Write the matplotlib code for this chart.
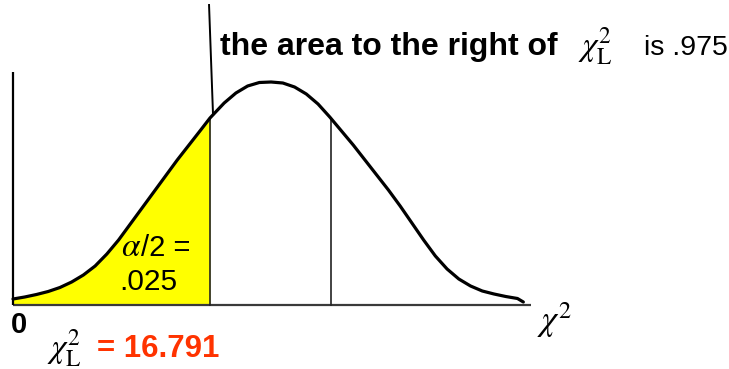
import numpy as np
import matplotlib
matplotlib.use("Agg")
import matplotlib.pyplot as plt

plt.rcParams['font.family'] = ['Liberation Sans', 'DejaVu Sans']
plt.rcParams['mathtext.fontset'] = 'stix'

# sketched chi-square density (x in chi-square units, height in arbitrary units)
curve_x = [0, 1, 2, 3, 4, 5, 6, 7, 8, 9, 10, 11, 12, 13, 14, 15, 16, 16.791,
           18, 19, 20, 21, 22, 23, 24, 25, 26, 27, 28, 29, 30, 31, 32, 33,
           34, 35, 36, 37, 38, 39, 40, 41, 42, 43, 43.5]
curve_h = [6, 8, 10.5, 13.5, 17.5, 23, 30, 39, 51, 65, 81, 97, 113, 129, 145, 160, 175, 187,
           202, 212, 219, 222.5, 223, 222, 218, 211, 201, 188, 174, 160, 145, 130, 115, 99,
           82, 65, 49, 36, 26, 19, 14, 11, 8.5, 6.5, 3]

chi2_lower = 16.791   # left critical value
right_cut = 27.10     # line marking the right-hand side
axis_end = 44.15
left_area = '.025'
right_area = '.975'

W, H = 729, 369
fig = plt.figure(figsize=(W / 100, H / 100), dpi=100)
ax = fig.add_axes([0, 0, 1, 1])
px = 11.732  # pixels per chi-square unit
ax.set_xlim(-13 / px, (W - 13) / px)
ax.set_ylim(-64, 305)
ax.axis('off')

cx = np.array(curve_x)
ch = np.array(curve_h)

# shaded lower tail
mask = cx <= chi2_lower
ax.fill_between(cx[mask], 0, ch[mask], color='#ffff00', lw=0, zorder=1)

# axes
ax.plot([0, axis_end], [0, 0], color='#3a3a3a', lw=1.6, zorder=2, solid_capstyle='butt')
ax.plot([0, 0], [0, 233], color='black', lw=1.6, zorder=2, solid_capstyle='butt')

# cut lines
h_low = np.interp(chi2_lower, cx, ch)
h_right = np.interp(right_cut, cx, ch)
ax.plot([chi2_lower, chi2_lower], [0, h_low], color='#222222', lw=1.2, zorder=3)
ax.plot([right_cut, right_cut], [0, h_right], color='#222222', lw=1.2, zorder=3)

# density curve
ax.plot(cx, ch, color='black', lw=2.3, zorder=4, solid_joinstyle='round',
        solid_capstyle='round')

# leader line up to the annotation
x_lead = 17.05
ax.plot([x_lead, 16.71], [np.interp(x_lead, cx, ch), 300], color='black', lw=1.4, zorder=4)


def put(x, y, s, **kw):
    fig.text(x / W, 1 - y / H, s, va='baseline', ha='left', **kw)


put(220, 55, 'the area to the right of', fontsize=23, fontweight='bold')
put(578, 55, r'$\chi^{2}_{\mathrm{L}}$', fontsize=24)
put(644, 55, 'is ' + right_area, fontsize=20.5)

put(121, 256, r'$\alpha$', fontsize=24)
put(141, 256, '/2 =', fontsize=21)
put(119, 290, left_area, fontsize=21.5)

put(11, 333, '0', fontsize=21, fontweight='bold')
put(47, 357, r'$\chi^{2}_{\mathrm{L}}$', fontsize=24)
put(97, 357, '= ' + f'{chi2_lower:.3f}', fontsize=22.5, fontweight='bold', color='#ff3300')
put(537, 331, r'$\chi^{2}$', fontsize=25)

fig.savefig('out.png', dpi=100)
